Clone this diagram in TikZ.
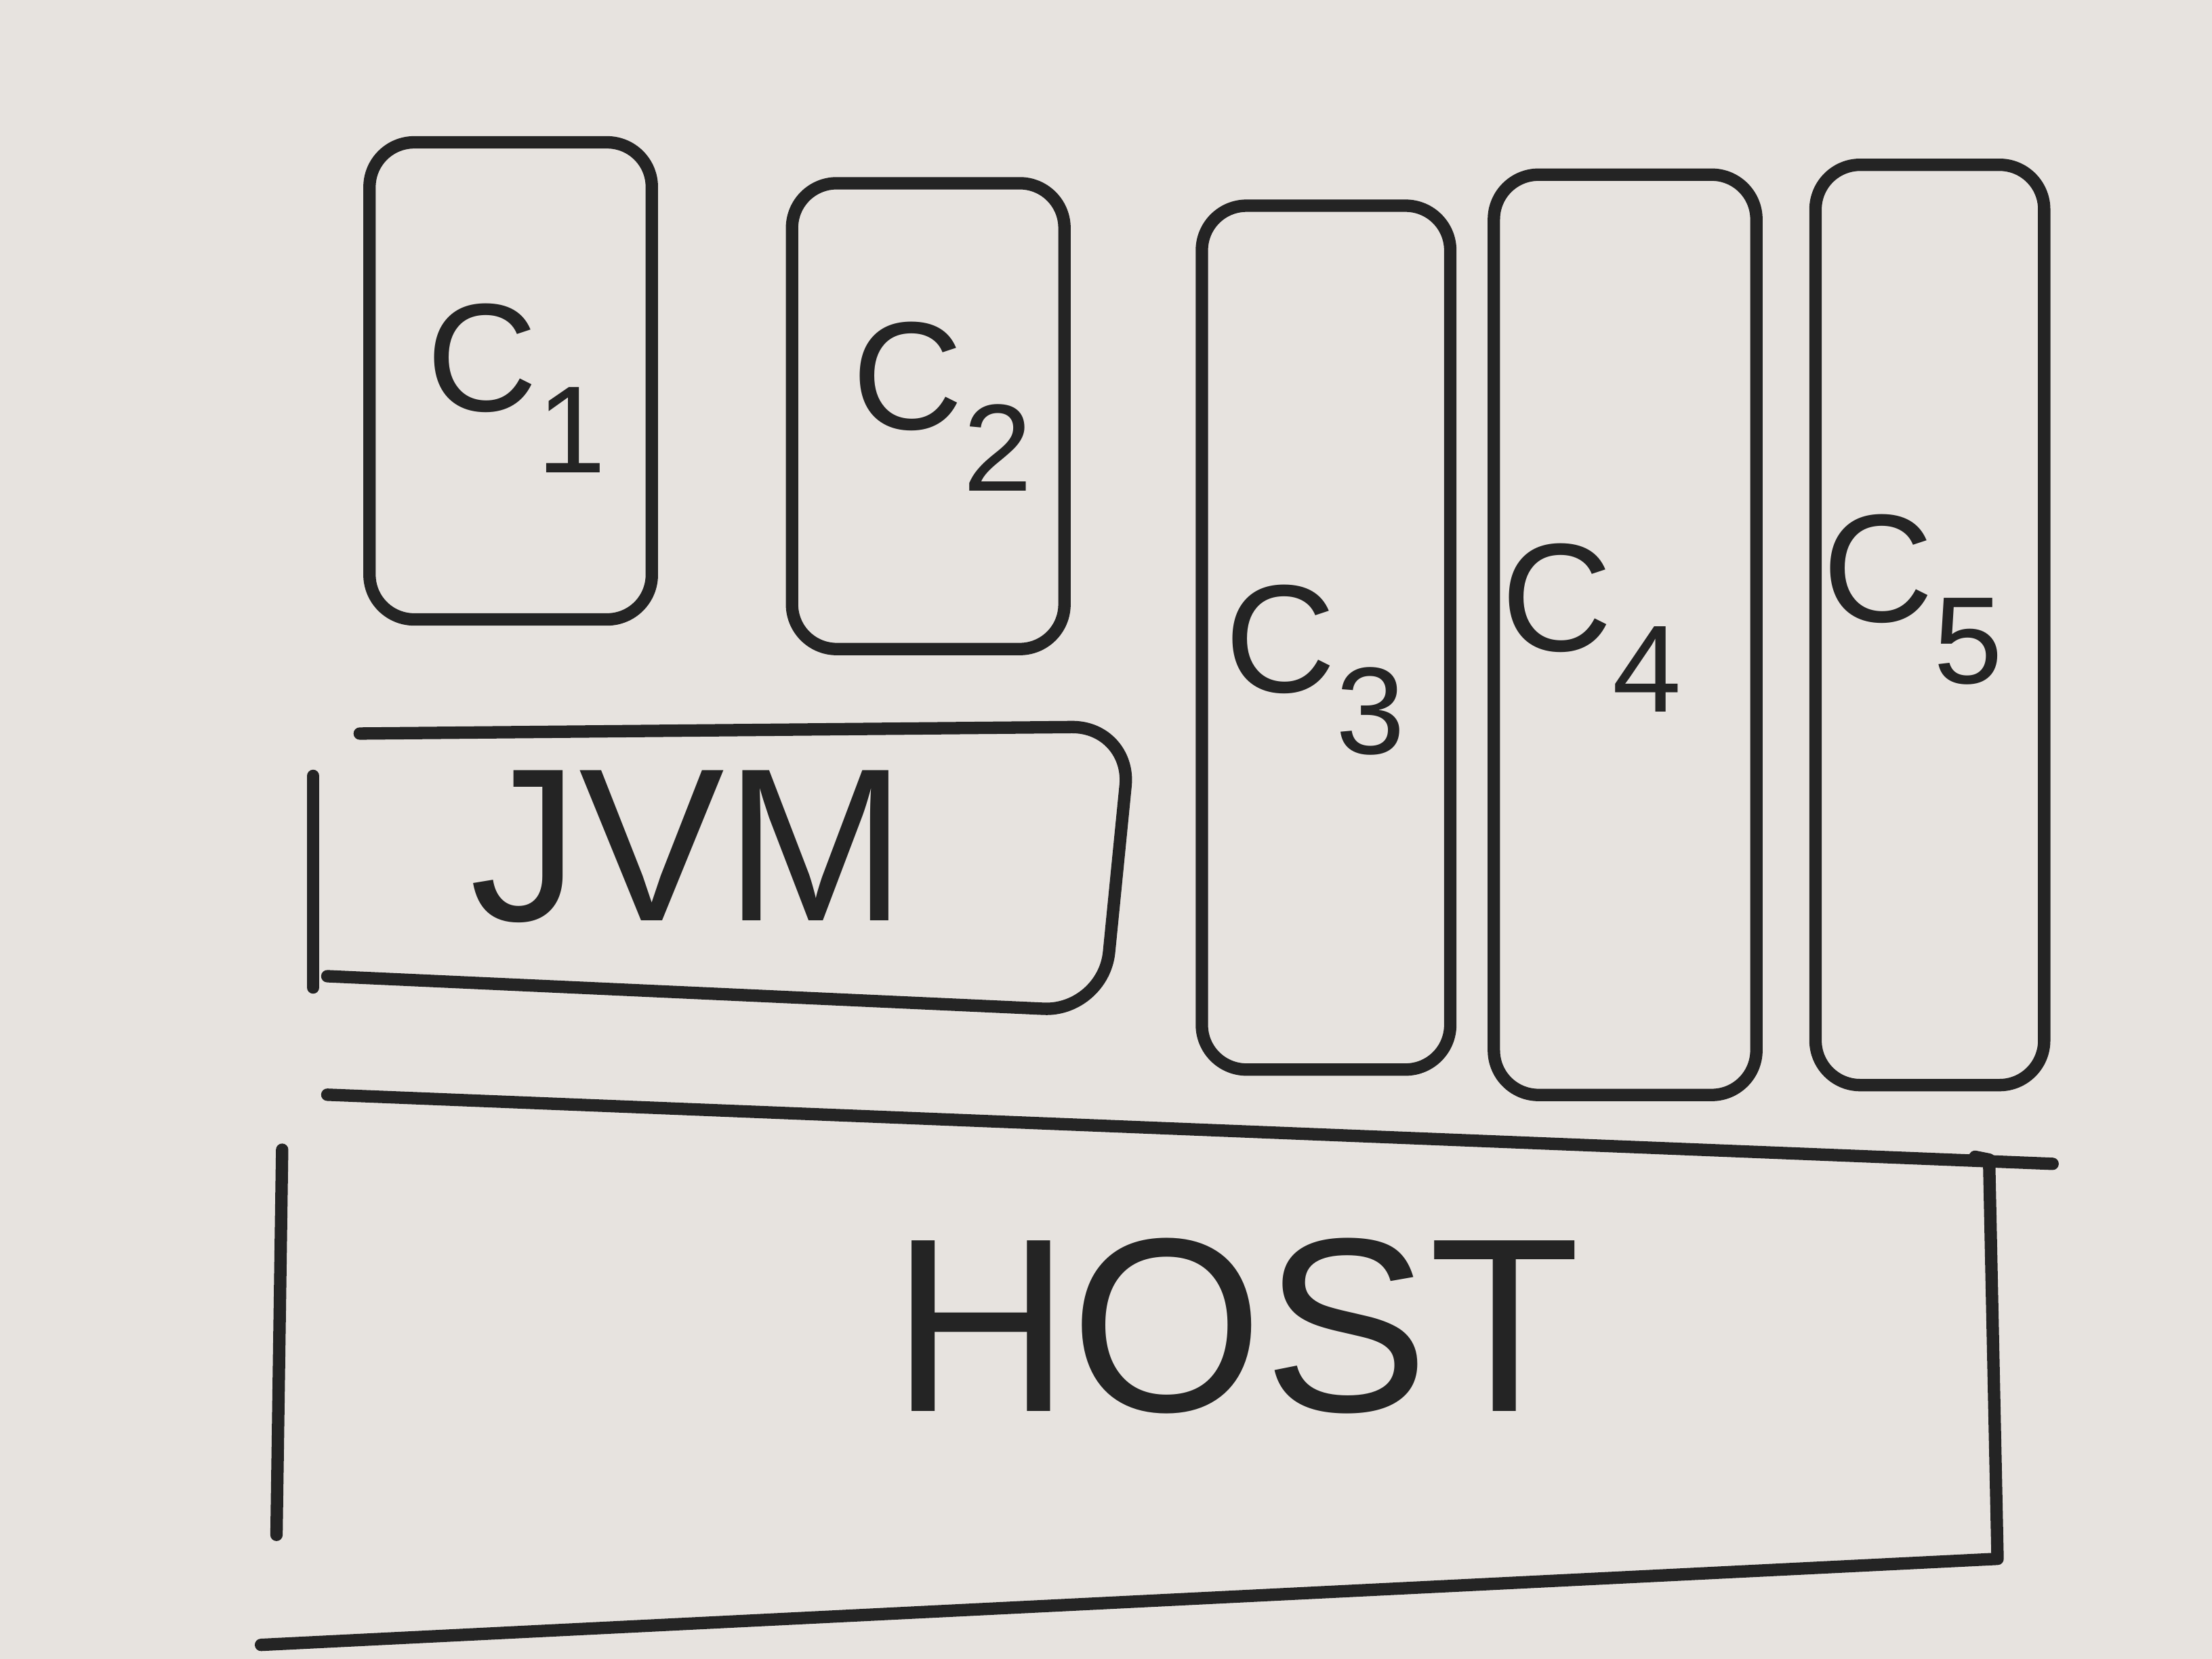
\documentclass[tikz,border=0pt]{standalone}
\usepackage{fontspec}
\setmainfont{Liberation Sans}
\definecolor{board}{HTML}{E7E3DF}
\definecolor{ink}{HTML}{242424}
\newcommand{\sub}[1]{\raisebox{-0.4em}{\fontsize{25}{30}\selectfont #1}}
\begin{document}
\begin{tikzpicture}[x=0.01cm,y=-0.01cm,
  box/.style={draw=ink, line width=2.5pt, rounded corners=9pt, inner sep=0pt},
  stroke/.style={draw=ink, line width=2.5pt, line cap=round, line join=round},
  lbl/.style={font=\fontsize{31}{36}\selectfont, text=ink, inner sep=0pt}]
\fill[board] (0,0) rectangle (1568,1176);
\useasboundingbox (0,0) rectangle (1568,1176);
% C boxes
\node[box, minimum width=2.00cm, minimum height=3.38cm] (c1) at (362,270) {};
\node[box, minimum width=1.93cm, minimum height=3.30cm] (c2) at (658,295) {};
\node[box, minimum width=1.76cm, minimum height=6.12cm] (c3) at (940,452) {};
\node[box, minimum width=1.86cm, minimum height=6.52cm] (c4) at (1152,450) {};
\node[box, minimum width=1.62cm, minimum height=6.52cm] (c5) at (1368,443) {};
\node[lbl] (c1l) at (366,275) {C\sub{1}};
\node[lbl] (c2l) at (668,288) {C\sub{2}};
\node[lbl] (c3l) at (932,475) {C\sub{3}};
\node[lbl] (c4l) at (1128,445) {C\sub{4}};
\node[lbl] (c5l) at (1356,425) {C\sub{5}};
% JVM
\coordinate (j1) at (255,520);
\coordinate (j2) at (802,515);
\coordinate (j3) at (782,717);
\coordinate (j4) at (232,692);
\draw[stroke] (222,550) -- (222,700);
\draw[stroke, rounded corners=12pt] (j1) -- (j2) -- (j3) -- (j4);
\node[lbl, font=\fontsize{44}{50}\selectfont] (jvm) at (488,600) {JVM};
% HOST
\coordinate (h1) at (232,776);
\coordinate (h2) at (1455,825);
\coordinate (h3) at (1400,820);
\coordinate (h4) at (1416,1105);
\coordinate (h5) at (185,1166);
\draw[stroke] (h1) -- (h2);
\draw[stroke] (200,815) -- (196,1088);
\draw[stroke] (h3) -- (1410,822) -- (h4) -- (h5);
\node[lbl, font=\fontsize{50}{56}\selectfont] (host) at (876,940) {HOST};
\end{tikzpicture}
\end{document}
